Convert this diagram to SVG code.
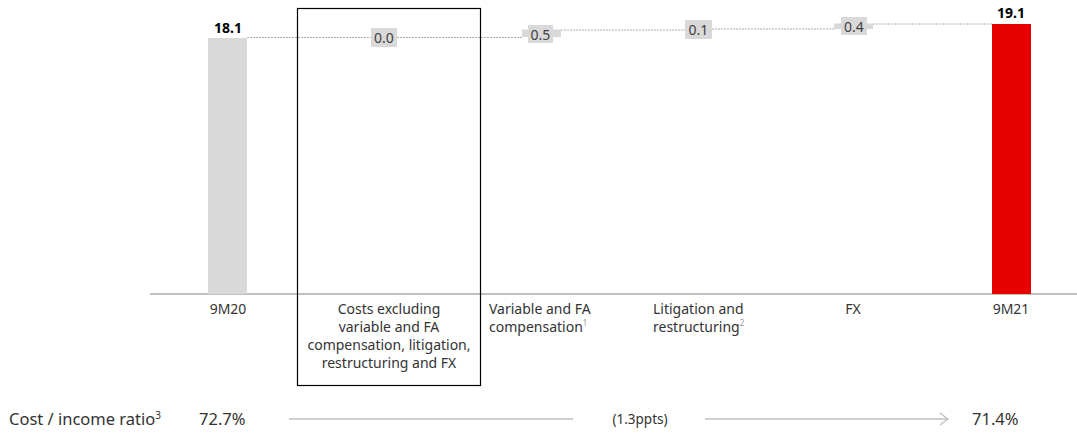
<svg xmlns="http://www.w3.org/2000/svg" width="1077" height="434" viewBox="0 0 1077 434">
<style>
text{font-family:"Noto Sans","Open Sans","Liberation Sans",sans-serif;fill:#333}
.cat{font-size:14px;text-anchor:middle}
.catl{font-size:14px}
.val{font-size:14px;text-anchor:middle;fill:#404040}
.tot{font-size:14px;font-weight:bold;text-anchor:middle;fill:#000}
.lbl{fill:#d9d9d9}
.dot{stroke:#999;stroke-width:0.8;stroke-dasharray:2 1;fill:none}
.sup{font-size:8px;fill:#999}
.big{font-size:16.5px;fill:#333}
</style>
<defs>
<marker id="chev" markerWidth="10" markerHeight="14" refX="9" refY="7" orient="auto" markerUnits="userSpaceOnUse">
<path d="M1,1 L9,7 L1,13" fill="none" stroke="#bfbfbf" stroke-width="1.3"/>
</marker>
</defs>
<g id="connectors">
<line class="dot" x1="247" y1="37.5" x2="522" y2="37.5"/>
<line class="dot" x1="561" y1="30" x2="685" y2="30"/>
<line class="dot" x1="712" y1="29" x2="834" y2="29"/>
<line class="dot" x1="873" y1="24" x2="992" y2="24"/>
</g>
<g id="axis">
<line x1="150" y1="294" x2="1077" y2="294" stroke="#808080" stroke-width="1.2"/>
</g>
<g id="n9M20">
<rect x="208" y="38" width="39" height="256" fill="#d9d9d9"/>
<text class="tot" x="228" y="33">18.1</text>
<text class="cat" x="228" y="314">9M20</text>
</g>
<g id="nCosts">
<rect x="297.5" y="8.5" width="183" height="377" fill="none" stroke="#000" stroke-width="1.2"/>
<rect class="lbl" x="371" y="28" width="26" height="19"/>
<text class="val" x="384" y="43">0.0</text>
<text class="cat" x="389" y="314">Costs excluding</text>
<text class="cat" x="389" y="332">variable and FA</text>
<text class="cat" x="389" y="350">compensation, litigation,</text>
<text class="cat" x="389" y="368">restructuring and FX</text>
</g>
<g id="nVariable">
<rect class="lbl" x="522" y="29.5" width="39" height="7.5"/>
<rect class="lbl" x="528" y="25" width="25" height="18"/>
<text class="val" x="540.5" y="39.5">0.5</text>
<text class="catl" x="489" y="314">Variable and FA</text>
<text class="catl" x="489" y="332">compensation<tspan class="sup" dy="-6">1</tspan></text>
</g>
<g id="nLitigation">
<rect class="lbl" x="685" y="20" width="27" height="19"/>
<text class="val" x="698.5" y="35">0.1</text>
<text class="catl" x="653" y="314">Litigation and</text>
<text class="catl" x="653" y="332">restructuring<tspan class="sup" dy="-6">2</tspan></text>
</g>
<g id="nFX">
<rect class="lbl" x="834" y="23.5" width="39" height="5.5"/>
<rect class="lbl" x="841" y="17" width="26" height="18"/>
<text class="val" x="854" y="31.5">0.4</text>
<text class="cat" x="853" y="314">FX</text>
</g>
<g id="n9M21">
<rect x="992" y="24" width="39" height="270" fill="#e60000"/>
<text class="tot" x="1011" y="18">19.1</text>
<text class="cat" x="1011" y="314">9M21</text>
</g>
<g id="ratio">
<text class="big" x="9" y="425">Cost / income ratio<tspan font-size="10" dy="-6" fill="#333">3</tspan></text>
<text class="big" x="199" y="425">72.7%</text>
<line x1="289" y1="419" x2="573" y2="419" stroke="#bfbfbf" stroke-width="1.3"/>
<text x="640" y="424" font-size="13.5" text-anchor="middle">(1.3ppts)</text>
<line x1="705" y1="419" x2="948" y2="419" stroke="#bfbfbf" stroke-width="1.3" marker-end="url(#chev)"/>
<text class="big" x="972" y="425">71.4%</text>
</g>
</svg>
